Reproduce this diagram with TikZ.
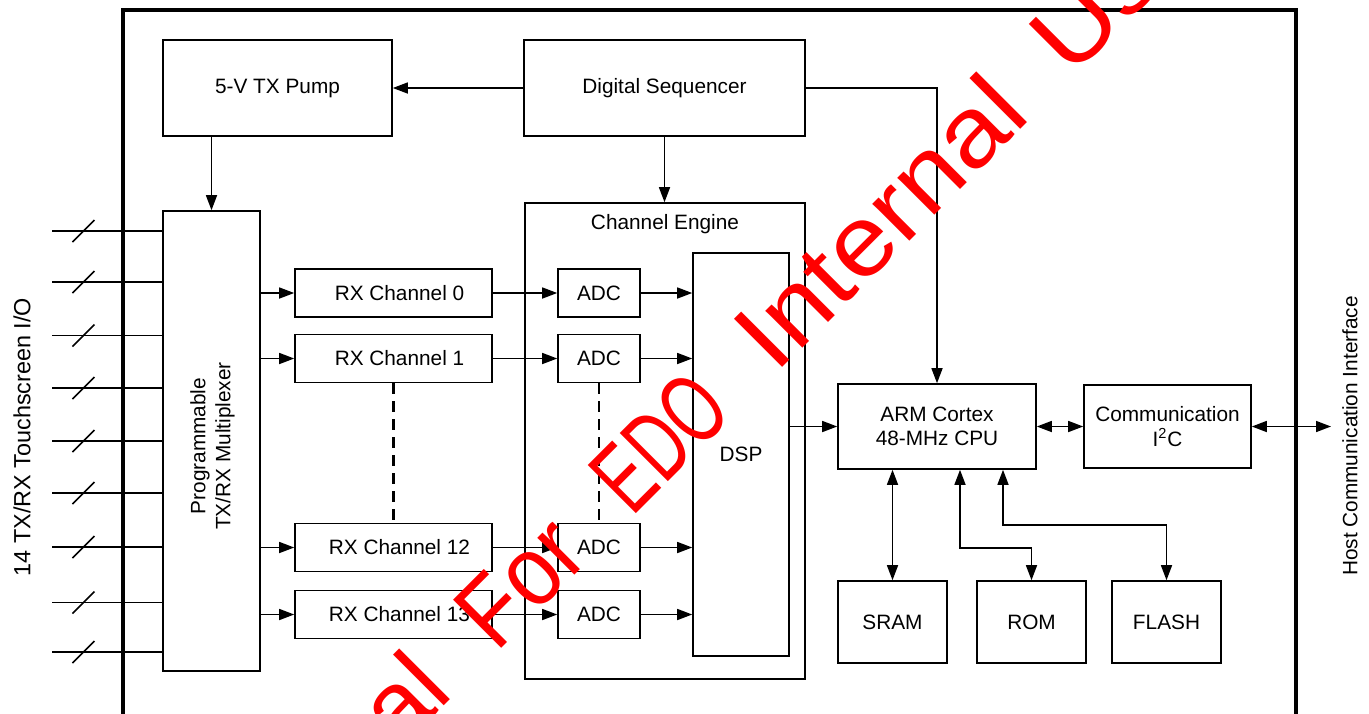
\documentclass[tikz,border=0pt]{standalone}
\usepackage{fontspec}
\usepackage{graphicx}
\setmainfont{Liberation Sans}
\usetikzlibrary{arrows.meta}
\begin{document}
\begin{tikzpicture}[x=0.5pt,y=-0.5pt,
  box/.style={draw, line width=0.8pt, inner sep=0pt, align=center,
    font=\fontsize{10.4}{12.2}\selectfont},
  txt/.style={inner sep=0pt, align=center, font=\fontsize{10.4}{12.5}\selectfont},
  link/.style={line width=0.75pt, -{Triangle[length=7.5pt,width=5.5pt]}},
  both/.style={line width=0.75pt,
    {Triangle[length=7.5pt,width=5.5pt]}-{Triangle[length=7.5pt,width=5.5pt]}},
  bus/.style={line width=0.75pt},
  skip/.style={line width=1.2pt, dash pattern=on 5.5pt off 3.5pt},
  frame/.style={line width=2.25pt},
  wmark/.style={text=red, inner sep=0pt, rotate=45, anchor=base west,
    font=\fontsize{49.5}{56}\selectfont}
]
\useasboundingbox (0,0) rectangle (1369,713);

% outer chip boundary
\draw[frame] (123,730) -- (123,10) -- (1296,10) -- (1296,730);

% top blocks
\node[box, minimum width=114.5pt, minimum height=48pt] (pump) at (277.5,88) {5-V TX Pump};
\node[box, minimum width=140.5pt, minimum height=48pt] (seq) at (664.5,88) {Digital Sequencer};

% multiplexer
\node[box, minimum width=48.5pt, minimum height=230pt] (mux) at (211.5,441) {};
\node[txt, rotate=90] (muxtext) at (212.5,446) {Programmable\\TX/RX Multiplexer};

% channel engine and DSP
\node[draw, line width=0.8pt, inner sep=0pt, minimum width=140pt, minimum height=238pt] (ce) at (665,441) {};
\node[txt] (cetext) at (665,224) {Channel Engine};
\node[box, minimum width=48pt, minimum height=201.5pt] (dsp) at (741,454.5) {DSP};

% receive channels and converters
\foreach \n/\lab/\y in {0/0/293, 1/1/358.5, 12/12/547.5, 13/13/614.5}{
  \node[box, minimum width=98.5pt, minimum height=24pt] (rx\n) at (393.5,\y) {\hspace*{6pt}RX Channel \lab};
  \node[box, minimum width=41pt, minimum height=24pt] (adc\n) at (599,\y) {ADC};
  \draw[link] (mux.east |- rx\n.west) -- (rx\n.west);
  \draw[link] (rx\n.east) -- (adc\n.west);
  \draw[link] (adc\n.east) -- (dsp.west |- adc\n.east);
}
\draw[skip] (rx1.south) -- (rx12.north);
\draw[skip] (adc1.south) -- (adc12.north);

% processor, interface and memories
\node[box, minimum width=99pt, minimum height=42.5pt] (arm) at (937,426.5) {ARM Cortex\\48-MHz CPU};
\node[box, minimum width=83.5pt, minimum height=41.5pt] (comm) at (1167.5,426.5) {Communication\\I\textsuperscript{2}C};
\node[box, minimum width=54.5pt, minimum height=41pt] (sram) at (892.5,622) {SRAM};
\node[box, minimum width=54.5pt, minimum height=41pt] (rom) at (1031.5,622) {ROM};
\node[box, minimum width=54.5pt, minimum height=41pt] (flash) at (1166.5,622) {FLASH};

\coordinate (host) at (1331,426.5);
\coordinate (romturn) at (960,548);
\coordinate (flashturn) at (1003,525);

% control and data paths
\draw[link] (seq.west) -- (pump.east);
\draw[link] (mux.north |- pump.south) -- (mux.north);
\draw[link] (seq.south) -- (seq.south |- ce.north);
\draw[link] (seq.east) -| (arm.north);
\draw[link] (dsp.east |- arm.west) -- (arm.west);
\draw[both] (arm.east) -- (comm.west);
\draw[both] (comm.east) -- (host);
\draw[both] (arm.south -| sram.north) -- (sram.north);
\draw[both] (arm.south -| romturn) -- (romturn) -| (rom.north);
\draw[both] (arm.south -| flashturn) -- (flashturn) -| (flash.north);

% touchscreen I/O lines
\foreach \k/\y in {1/231, 2/282, 3/335.5, 4/388, 5/441, 6/493, 7/547, 8/602.5, 9/652}{
  \coordinate (in\k) at (52,\y);
  \draw[bus] (in\k) -- (in\k -| mux.west);
  \draw[bus] ([shift={(20.5,11)}]in\k) -- ([shift={(42.5,-11)}]in\k);
}

% side labels
\node[rotate=90, inner sep=0pt, font=\fontsize{11.7}{14}\selectfont] (iolabel) at (22,437) {14 TX/RX Touchscreen I/O};
\node[rotate=90, inner sep=0pt, font=\fontsize{10.4}{12.5}\selectfont] (hostlabel) at (1350,436) {Host Communication Interface};

% diagonal watermark, one word at a time along the same baseline
\begin{scope}
\clip (0,0) rectangle (1369,713);
\node[wmark] (wm1) at (400.2,749.8) {al};
\node[wmark] (wm2) at (496.5,653.5) {\scalebox{0.9}[1]{For}};
\node[wmark] (wm3) at (632.7,517.3) {\scalebox{0.67}[1]{EDO}};
\node[wmark] (wm4) at (775.3,374.8) {\scalebox{1.1}[1]{Internal}};
\node[wmark] (wm5) at (1070.9,79.2) {\scalebox{1.1}[1]{Use}};
\end{scope}
\end{tikzpicture}
\end{document}
